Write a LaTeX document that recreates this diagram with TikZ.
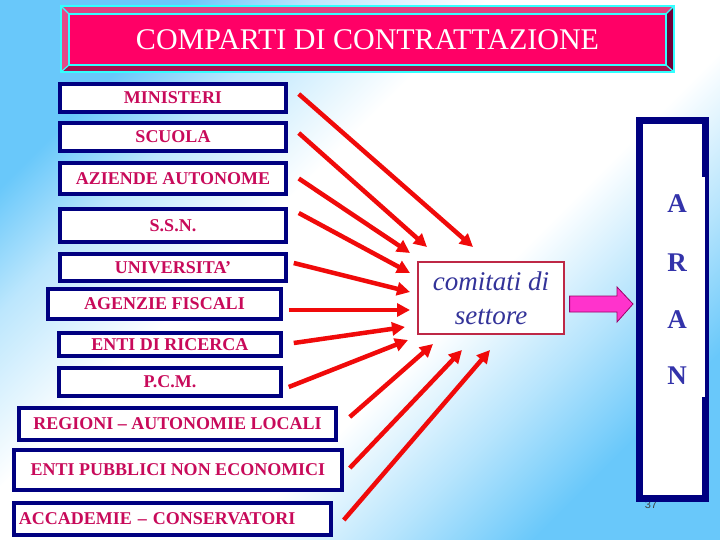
\documentclass[tikz,border=0pt]{standalone}
\usepackage{fontspec}
\setmainfont{Liberation Serif}
\newfontfamily\sansf{Liberation Sans}
\usetikzlibrary{arrows.meta}
\definecolor{bgblue}{RGB}{105,200,250}
\definecolor{navyb}{RGB}{0,0,128}
\definecolor{crim}{RGB}{200,10,90}
\definecolor{comtext}{RGB}{51,51,153}
\definecolor{arantext}{RGB}{51,51,170}
\definecolor{pinkarr}{RGB}{255,51,204}
\definecolor{pinkline}{RGB}{153,0,102}
\definecolor{comline}{RGB}{190,40,70}
\definecolor{arrred}{RGB}{240,10,10}
\definecolor{cyanl}{RGB}{51,255,255}
\definecolor{face}{RGB}{255,0,102}
\definecolor{bevtop}{RGB}{224,64,127}
\definecolor{bevleft}{RGB}{228,74,136}
\definecolor{bevbot}{RGB}{168,16,78}
\definecolor{bevright}{RGB}{112,0,56}
\pgfdeclareverticalshading{bgshade}{100bp}{color(0bp)=(bgblue); color(25bp)=(bgblue);
  color(33bp)=(bgblue!50); color(42bp)=(white); color(58bp)=(white);
  color(68bp)=(bgblue!45); color(75bp)=(bgblue); color(100bp)=(bgblue)}
\tikzset{
  cbox/.style 2 args={draw=navyb, line width=3.5, fill=white, inner sep=0,
    minimum width=#1, minimum height=#2, text=crim,
    font=\bfseries\fontsize{18}{18}\selectfont},
  redarr/.style={draw=arrred, line width=4.5, -{Triangle[length=13pt,width=13pt]}},
  aranl/.style={text=arantext, font=\bfseries\fontsize{27}{27}\selectfont, inner sep=0}
}
\begin{document}
\begin{tikzpicture}[x=1pt,y=-1pt]
\useasboundingbox (0,0) rectangle (720,540);
\shade[shading=bgshade, shading angle=45] (0,0) rectangle (720,540);

% title bevel
\fill[bevtop] (61,6) -- (674,6) -- (666,14) -- (69,14) -- cycle;
\fill[bevleft] (61,6) -- (69,14) -- (69,65) -- (61,72) -- cycle;
\fill[bevbot] (61,72) -- (69,65) -- (666,65) -- (674,72) -- cycle;
\fill[bevright] (674,6) -- (674,72) -- (666,65) -- (666,14) -- cycle;
\node[fill=face, minimum width=597, minimum height=51, inner sep=0, text=white,
  font=\fontsize{30}{30}\selectfont] (title) at (367.5,39.5) {COMPARTI DI CONTRATTAZIONE};
\draw[cyanl, line width=2.5] (61,6) rectangle (674,72);
\draw[cyanl, line width=1.5] (69,14) rectangle (666,65);
\draw[cyanl, line width=1.2] (61,6) -- (69,14) (674,6) -- (666,14) (61,72) -- (69,65) (674,72) -- (666,65);

% left boxes
\node[cbox={226}{28}] (min) at (173,98) {MINISTERI};
\node[cbox={226}{28}] (scu) at (173,137) {SCUOLA};
\node[cbox={226}{31}] (azi) at (173,178.5) {AZIENDE AUTONOME};
\node[cbox={226}{33}] (ssn) at (173,225.5) {S.S.N.};
\node[cbox={226}{27}] (uni) at (173,267.5) {UNIVERSITA’};
\node[cbox={233}{30}] (age) at (164.5,304) {AGENZIE FISCALI};
\node[cbox={222}{23}] (ric) at (170,344.5) {ENTI DI RICERCA};
\node[cbox={222}{28}] (pcm) at (170,382) {P.C.M.};
\node[cbox={317}{32}] (reg) at (177.5,424) {REGIONI – AUTONOMIE LOCALI};
\node[cbox={328}{40}] (epn) at (178,470) {ENTI PUBBLICI NON ECONOMICI};
\node[cbox={317}{32}, text width=307, align=left, inner xsep=5] (acc) at (172.5,519) {ACCADEMIE – CONSERVATORI};

% comitati
\node[draw=comline, line width=1.2, fill=white, minimum width=146, minimum height=72,
  inner sep=0, align=center, text=comtext, font=\itshape\fontsize{27}{34}\selectfont]
  (com) at (491,298) {comitati di\\settore};

% arrow tips
\coordinate (t1) at (473,247);
\coordinate (t2) at (427,247);
\coordinate (t3) at (410,253);
\coordinate (t4) at (410,273);
\coordinate (t5) at (410,292);
\coordinate (t6) at (410,310);
\coordinate (t7) at (405,327);
\coordinate (t8) at (408,340);
\coordinate (t9) at (433,344);
\coordinate (t10) at (462,350);
\coordinate (t11) at (490,350);

\draw[redarr] ([shift={(11,-4)}]min.east) -- (t1);
\draw[redarr] ([shift={(11,-4)}]scu.east) -- (t2);
\draw[redarr] ([shift={(11,0)}]azi.east) -- (t3);
\draw[redarr] ([shift={(11,-12.5)}]ssn.east) -- (t4);
\draw[redarr] ([shift={(6,-4.5)}]uni.east) -- (t5);
\draw[redarr] ([shift={(6,6)}]age.east) -- (t6);
\draw[redarr] ([shift={(11,-1.5)}]ric.east) -- (t7);
\draw[redarr] ([shift={(6,5)}]pcm.east) -- (t8);
\draw[redarr] ([shift={(12,-7)}]reg.east) -- (t9);
\draw[redarr] ([shift={(6,-2)}]epn.east) -- (t10);
\draw[redarr] ([shift={(11,1)}]acc.east) -- (t11);

% page number (under the frame)
\node[text=black!75, font=\sansf\fontsize{11}{11}\selectfont, inner sep=0] (pg) at (651,505) {37};

% ARAN box
\node[draw=navyb, line width=7, fill=white, minimum width=66, minimum height=378, inner sep=0] (aran) at (672.5,309.5) {};
\fill[white] (702,177) rectangle (704.5,397);
\node[aranl] (la1) at (677,204) {A};
\node[aranl] (lr) at (677,263) {R};
\node[aranl] (la2) at (677,320) {A};
\node[aranl] (ln) at (677,376) {N};

% pink block arrow
\filldraw[fill=pinkarr, draw=pinkline, line width=0.8]
  ([xshift=5]com.east |- 0,296) -- (617,296) -- (617,287) -- (633,304) -- (617,322) -- (617,312) -- ([xshift=5]com.east |- 0,312) -- cycle;
\end{tikzpicture}
\end{document}
